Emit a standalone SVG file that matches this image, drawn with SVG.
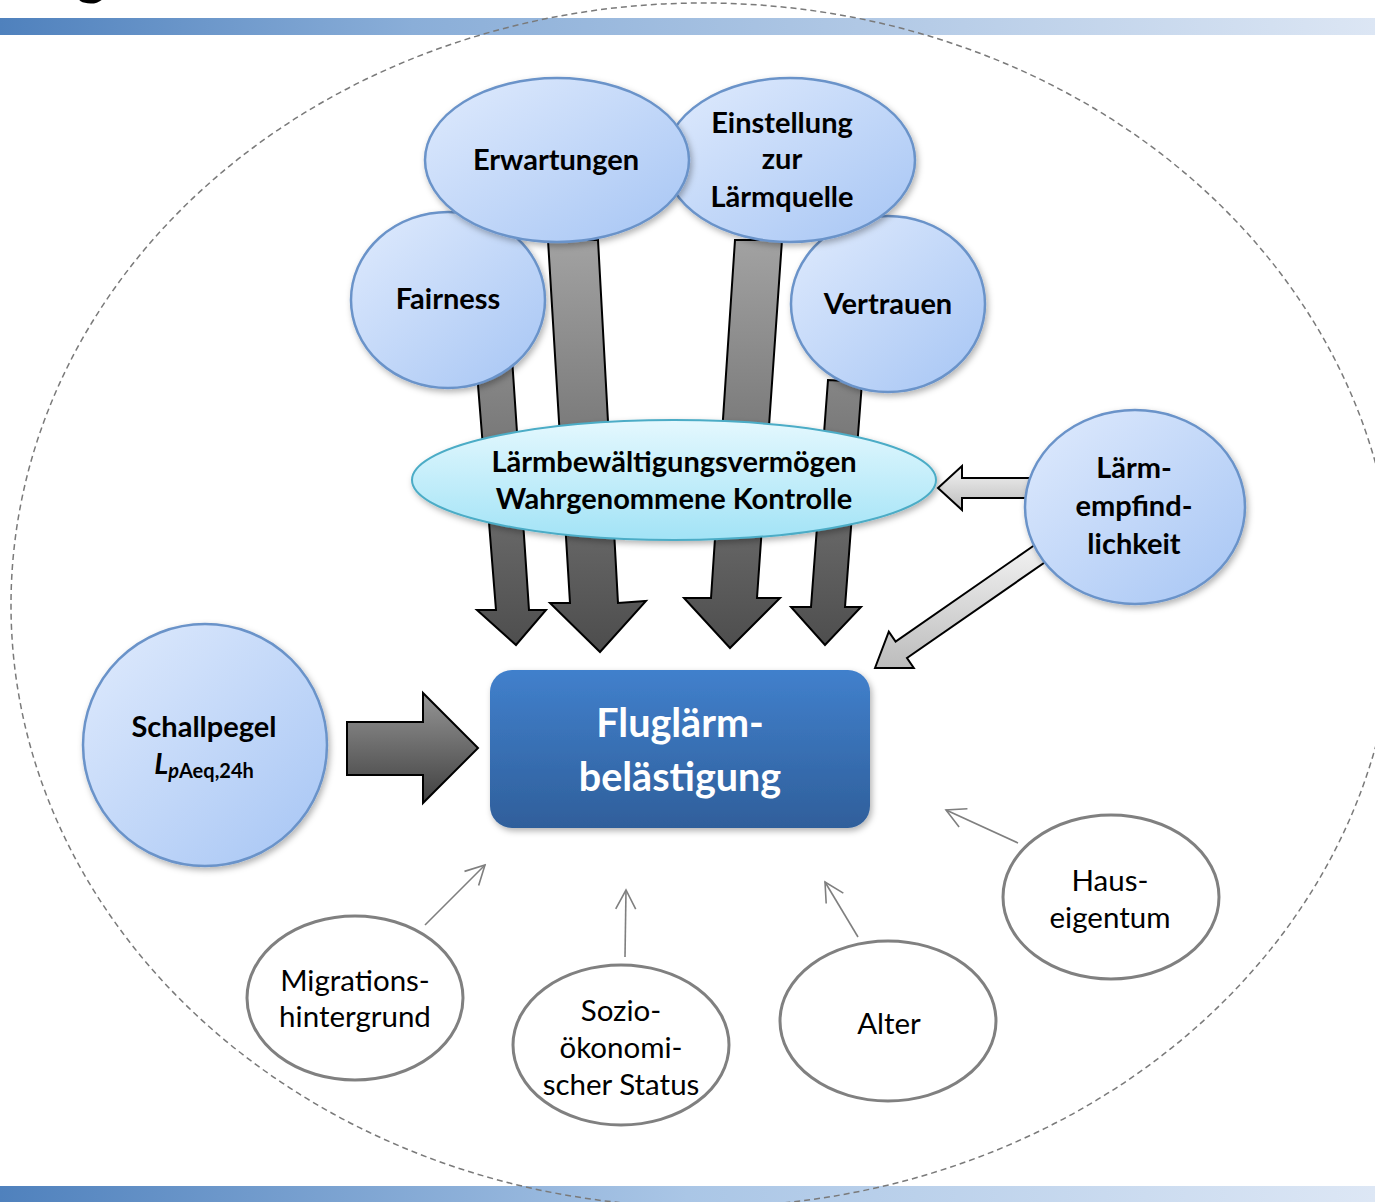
<svg xmlns="http://www.w3.org/2000/svg" width="1375" height="1202" viewBox="0 0 1375 1202">
<style>
.t{font-family:Lato,"Liberation Sans",sans-serif;fill:#000;text-anchor:middle}
.b{font-weight:bold;font-size:29px}
.r{font-size:29.5px}
.blue{fill:url(#nodeFill);stroke:#6a93c9;stroke-width:2.5;filter:url(#sh)}
.white{fill:#fff;stroke:#808080;stroke-width:3}
.dark{fill:url(#darkArrow);stroke:#000;stroke-width:2}
.light{fill:url(#lightArrow);stroke:#000;stroke-width:2}
.thin{fill:none;stroke:#7f7f7f;stroke-width:1.6;marker-end:url(#open)}
</style>
<defs>
<linearGradient id="topBar" x1="0" y1="0" x2="1" y2="0"><stop offset="0" stop-color="#4f81bd"/><stop offset="0.3" stop-color="#8aaed8"/><stop offset="1" stop-color="#dce6f4"/></linearGradient>
<linearGradient id="botBar" x1="0" y1="0" x2="1" y2="0"><stop offset="0" stop-color="#4f81bd"/><stop offset="0.5" stop-color="#aac6e6"/><stop offset="1" stop-color="#dde7f5"/></linearGradient>
<linearGradient id="nodeFill" x1="0" y1="0" x2="1" y2="1"><stop offset="0" stop-color="#e0ebfd"/><stop offset="1" stop-color="#a6c5f4"/></linearGradient>
<linearGradient id="cyanFill" x1="0" y1="0" x2="0" y2="1"><stop offset="0" stop-color="#e4f8fe"/><stop offset="1" stop-color="#a2e3f6"/></linearGradient>
<linearGradient id="boxFill" x1="0" y1="0" x2="0" y2="1"><stop offset="0" stop-color="#4180cc"/><stop offset="1" stop-color="#2f5f9b"/></linearGradient>
<linearGradient id="darkArrow" gradientUnits="userSpaceOnUse" x1="0" y1="240" x2="0" y2="655"><stop offset="0" stop-color="#a2a2a2"/><stop offset="1" stop-color="#4c4c4c"/></linearGradient>
<linearGradient id="schArrow" x1="0" y1="0" x2="0" y2="1"><stop offset="0" stop-color="#959595"/><stop offset="1" stop-color="#404040"/></linearGradient>
<linearGradient id="lightArrow" x1="0" y1="0" x2="0" y2="1"><stop offset="0" stop-color="#f4f4f4"/><stop offset="1" stop-color="#bcbcbc"/></linearGradient>
<filter id="sh" x="-20%" y="-20%" width="140%" height="140%"><feDropShadow dx="2" dy="3" stdDeviation="3" flood-color="#000" flood-opacity="0.3"/></filter>
<marker id="open" markerUnits="userSpaceOnUse" markerWidth="24" markerHeight="24" viewBox="0 0 24 24" refX="22" refY="12" orient="auto"><path d="M3,2 L22,12 L3,22" fill="none" stroke="#7f7f7f" stroke-width="1.6"/></marker>
</defs>
<rect width="1375" height="1202" fill="#fff"/>
<text x="76" y="-7" font-family="Lato,'Liberation Sans',sans-serif" font-weight="bold" font-size="58">g</text>
<rect x="0" y="18" width="1375" height="17" fill="url(#topBar)"/>
<rect x="0" y="1186" width="1375" height="16" fill="url(#botBar)"/>
<ellipse cx="703" cy="605" rx="692" ry="602" fill="none" stroke="#7a7a7a" stroke-width="1.5" stroke-dasharray="6 4"/>

<g id="connectors">
<polygon class="dark" points="476,360 512,358 529,610 546,610 516,645 477,610 496,610"/>
<polygon class="dark" points="548,240 598,240 618,603 646,601 600,652 550,603 570,603"/>
<polygon class="dark" points="735,240 782,240 757,598 780,598 730,648 684,598 711,598"/>
<polygon class="dark" points="828,380 862,382 845,607 861,607 825,645 791,607 811,607"/>
<polygon class="light" points="938,488 962,466 962,478 1035,478 1035,498 962,498 962,510"/>
<polygon class="light" points="875,668 888.8,631.7 895.6,641.6 1039.3,541.8 1050.7,558.2 907,658 913.8,667.9"/>
<polygon points="347,722 423,722 423,693 478,748 423,803 423,775 347,775" fill="url(#schArrow)" stroke="#000" stroke-width="2"/>
<line class="thin" x1="425" y1="925" x2="485" y2="865"/>
<line class="thin" x1="625" y1="957" x2="626" y2="890"/>
<line class="thin" x1="858" y1="937" x2="825" y2="882"/>
<line class="thin" x1="1018" y1="843" x2="946" y2="810"/>
</g>

<g id="fairness"><ellipse class="blue" cx="448" cy="300" rx="97" ry="88"/><text class="t b" x="448" y="309">Fairness</text></g>
<g id="vertrauen"><ellipse class="blue" cx="888" cy="304" rx="97" ry="88"/><text class="t b" x="888" y="314">Vertrauen</text></g>
<g id="einstellung"><ellipse class="blue" cx="790" cy="160" rx="125" ry="82"/><text class="t b" x="782" y="133">Einstellung</text><text class="t b" x="782" y="169">zur</text><text class="t b" x="782" y="207">Lärmquelle</text></g>
<g id="erwartungen"><ellipse class="blue" cx="557" cy="160" rx="132" ry="82"/><text class="t b" x="556" y="170">Erwartungen</text></g>
<g id="kontrolle"><ellipse cx="674" cy="480" rx="262" ry="60" fill="url(#cyanFill)" stroke="#4bacc6" stroke-width="2" filter="url(#sh)"/><text class="t b" x="674" y="472">Lärmbewältigungsvermögen</text><text class="t b" x="674" y="509">Wahrgenommene Kontrolle</text></g>
<g id="laermempfindlichkeit"><ellipse class="blue" cx="1135" cy="507" rx="110" ry="97"/><text class="t b" x="1134" y="478">Lärm-</text><text class="t b" x="1134" y="516">empfind-</text><text class="t b" x="1134" y="554">lichkeit</text></g>
<g id="schallpegel"><ellipse class="blue" cx="205" cy="745" rx="122" ry="121"/><text class="t b" x="204" y="737">Schallpegel</text><text class="t" x="204" y="774" font-weight="bold"><tspan font-style="italic" font-size="29">L</tspan><tspan font-style="italic" font-size="20" dy="4">p</tspan><tspan font-size="20">Aeq,24h</tspan></text></g>
<g id="fluglaerm"><rect x="490" y="670" width="380" height="158" rx="22" fill="url(#boxFill)" filter="url(#sh)"/><text class="t" x="680" y="737" font-weight="bold" font-size="39.5" style="fill:#fff">Fluglärm-</text><text class="t" x="680" y="791" font-weight="bold" font-size="39.5" style="fill:#fff">belästigung</text></g>
<g id="migration"><ellipse class="white" cx="355" cy="998" rx="108" ry="82"/><text class="t r" x="355" y="991">Migrations-</text><text class="t r" x="355" y="1027">hintergrund</text></g>
<g id="sozio"><ellipse class="white" cx="621" cy="1045" rx="108" ry="80"/><text class="t r" x="621" y="1021">Sozio-</text><text class="t r" x="621" y="1058">ökonomi-</text><text class="t r" x="621" y="1095">scher Status</text></g>
<g id="alter"><ellipse class="white" cx="888" cy="1021" rx="108" ry="80"/><text class="t r" x="889" y="1034">Alter</text></g>
<g id="haus"><ellipse class="white" cx="1111" cy="897" rx="108" ry="82"/><text class="t r" x="1110" y="891">Haus-</text><text class="t r" x="1110" y="928">eigentum</text></g>
</svg>
